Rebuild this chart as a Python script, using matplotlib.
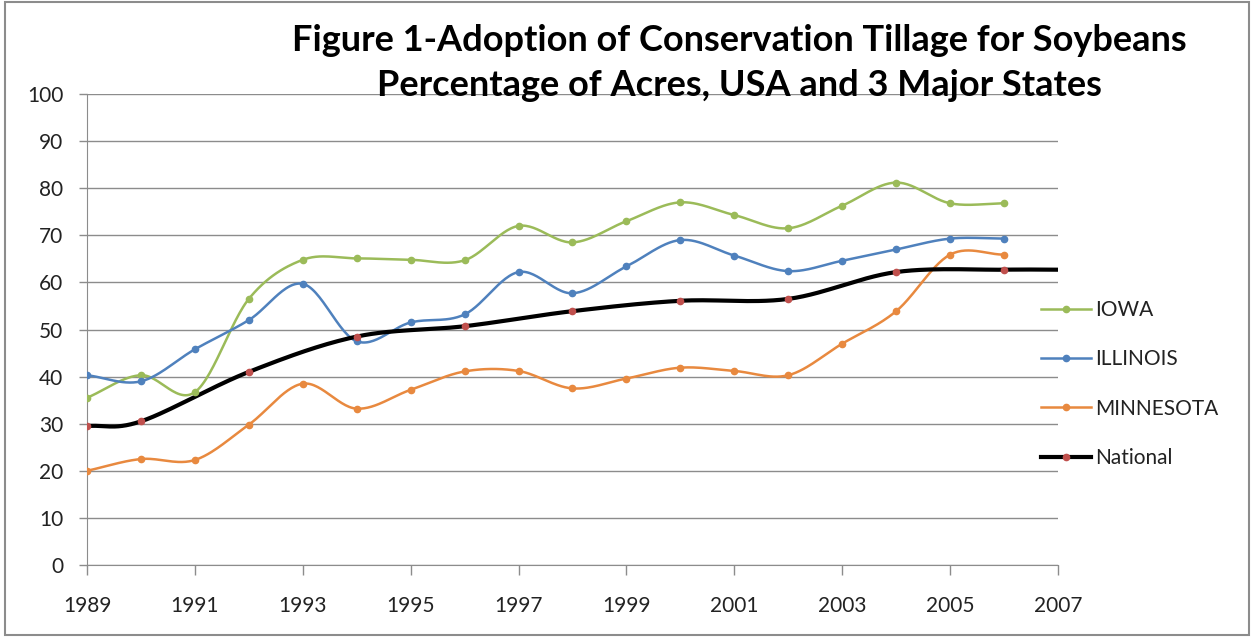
import numpy as np
import matplotlib
matplotlib.use("Agg")
import matplotlib.pyplot as plt
from matplotlib.lines import Line2D

# data
years = list(range(1989, 2007))
iowa = [35.5, 40.3, 36.7, 56.5, 64.8, 65.1, 64.8, 64.7, 72.0, 68.5,
        73.0, 77.0, 74.3, 71.5, 76.3, 81.2, 76.8, 76.8]
illinois = [40.3, 39.0, 45.8, 52.0, 59.7, 47.5, 51.5, 53.2, 62.2, 57.7,
            63.4, 69.0, 65.7, 62.4, 64.6, 67.0, 69.3, 69.3]
minnesota = [20.0, 22.5, 22.3, 29.8, 38.5, 33.2, 37.2, 41.1, 41.2, 37.5,
             39.6, 41.9, 41.2, 40.3, 47.0, 53.9, 65.9, 65.9]
nat_years = [1989, 1990, 1992, 1994, 1996, 1998, 2000, 2002, 2004, 2006, 2007]
national = [29.5, 30.5, 41.0, 48.5, 50.7, 53.9, 56.1, 56.5, 62.2, 62.7, 62.7]

plt.rcParams['font.family'] = ['Lato', 'DejaVu Sans']


def smooth(x, y, n=30):
    # Excel-style smoothed line: Catmull-Rom through the points
    x = np.asarray(x, float)
    y = np.asarray(y, float)
    px = np.concatenate([[2 * x[0] - x[1]], x, [2 * x[-1] - x[-2]]])
    py = np.concatenate([[2 * y[0] - y[1]], y, [2 * y[-1] - y[-2]]])
    xs, ys = [], []
    t = np.linspace(0, 1, n)
    for i in range(1, len(px) - 2):
        for p, out in ((px, xs), (py, ys)):
            p0, p1, p2, p3 = p[i - 1], p[i], p[i + 1], p[i + 2]
            out.extend(0.5 * ((2 * p1) + (-p0 + p2) * t
                              + (2 * p0 - 5 * p1 + 4 * p2 - p3) * t ** 2
                              + (-p0 + 3 * p1 - 3 * p2 + p3) * t ** 3))
    return xs, ys


fig = plt.figure(figsize=(12.53, 6.37), dpi=100)
ax = fig.add_axes([0.0694, 0.113, 0.775, 0.7394])

series = [
    ("IOWA", years, iowa, "#9BBB59", "#9BBB59", 1.8),
    ("ILLINOIS", years, illinois, "#4F81BD", "#4F81BD", 1.8),
    ("MINNESOTA", years, minnesota, "#E8893F", "#E8893F", 1.8),
    ("National", nat_years, national, "black", "#C0504D", 3.0),
]

handles = []
for name, xs, ys, col, mcol, lw in series:
    sx, sy = smooth(xs, ys)
    ax.plot(sx, sy, color=col, lw=lw, zorder=3)
    mx = [a for a in xs if a <= 2006]
    my = ys[:len(mx)]
    ax.plot(mx, my, ls="none", marker="o", ms=4.5, color=mcol, zorder=4)
    handles.append(Line2D([], [], color=col, lw=lw, marker="o", ms=4.5,
                          markerfacecolor=mcol, markeredgecolor=mcol))

ax.set_xlim(1989, 2007)
ax.set_ylim(0, 100)
ax.set_xticks(range(1989, 2008, 2))
ax.set_yticks(range(0, 101, 10))
ax.grid(axis="y", color="#8c8c8c", lw=1)
ax.set_axisbelow(True)
for s in ("top", "right"):
    ax.spines[s].set_visible(False)
for s in ("left", "bottom"):
    ax.spines[s].set_color("#8c8c8c")
ax.tick_params(axis="both", labelsize=15, colors="#8c8c8c", labelcolor="#222222",
               width=1)
ax.tick_params(axis="x", length=7, pad=15)
ax.tick_params(axis="y", length=6, pad=11)

leg = fig.legend(handles, [s[0] for s in series], loc="upper left",
                 bbox_to_anchor=(0.816, 0.558), frameon=False, fontsize=15,
                 handlelength=2.4, labelspacing=1.4, handletextpad=0.2)
for t in leg.get_texts():
    t.set_color("#222222")

fig.text(0.59, 0.962, "Figure 1-Adoption of Conservation Tillage for Soybeans\n"
         "Percentage of Acres, USA and 3 Major States",
         ha="center", va="top", fontsize=26, fontweight="bold",
         linespacing=1.42)

# outer frame like the original chart area
fig.patches.append(plt.Rectangle((0.004, 0.003), 0.993, 0.994, transform=fig.transFigure,
                                 fill=False, ec="#8c8c8c", lw=1.5))

fig.savefig("out.png", dpi=100)
